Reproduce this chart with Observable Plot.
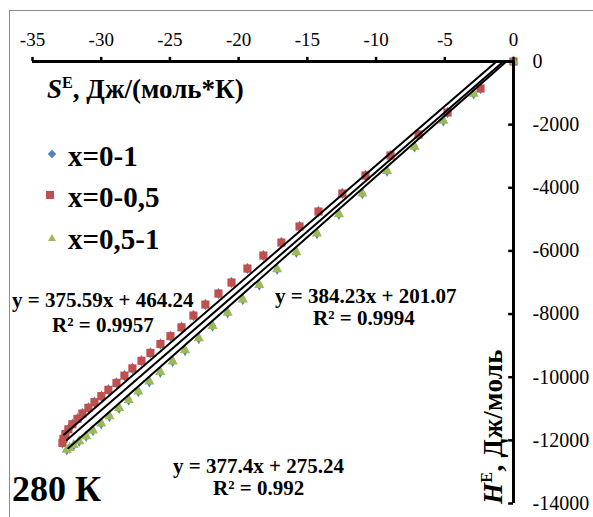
<!DOCTYPE html>
<html><head><meta charset="utf-8">
<script src="https://cdn.jsdelivr.net/npm/d3@7"></script>
<script src="https://cdn.jsdelivr.net/npm/@observablehq/plot@0.6"></script>
<style>
body{margin:0;background:#fff;}
#wrap{position:relative;width:593px;height:517px;font-family:"Liberation Serif","Times New Roman",serif;overflow:hidden;}
#wrap svg{position:absolute;left:0;top:0;}
.frame{position:absolute;left:9px;top:10px;width:600px;height:520px;border:1px solid #8c8c8c;box-sizing:border-box;}
.t{position:absolute;font-weight:bold;white-space:nowrap;color:#000;line-height:1;}
.eq{font-size:21px;}
.leg{font-size:29px;}
sup{font-size:0.6em;vertical-align:0.6em;line-height:0;}
.mk{position:absolute;}
</style></head>
<body><div id="wrap"><div class="frame"></div></div>
<script>
// ---- data ----
const xTicks = [-35, -30, -25, -20, -15, -10, -5, 0];
const yTicks = [0, -2000, -4000, -6000, -8000, -10000, -12000, -14000];

// x = 0-0,5 (red squares): [S^E, H^E]
const seriesHalf1 = [
  [0, 0], [-2.40, -855], [-4.80, -1616], [-6.91, -2313], [-8.95, -2978], [-10.77, -3611],
  [-12.45, -4182], [-14.19, -4752], [-15.57, -5227], [-16.89, -5734], [-18.20, -6146],
  [-19.36, -6558], [-20.52, -7001], [-21.47, -7350], [-22.42, -7698], [-23.29, -8047],
  [-24.16, -8420], [-24.96, -8700], [-25.69, -8950], [-26.42, -9230], [-27.07, -9480],
  [-27.73, -9720], [-28.31, -9950], [-28.89, -10180], [-29.48, -10400], [-29.99, -10600],
  [-30.49, -10790], [-30.93, -10970], [-31.37, -11150], [-31.73, -11320], [-32.10, -11490],
  [-32.39, -11650], [-32.61, -11800], [-32.75, -11950], [-32.82, -12080]
];
// x = 0,5-1 (green triangles)
const seriesHalf2 = [
  [0, 0], [-2.9, -1020], [-5.1, -1880], [-7.2, -2700], [-9.2, -3470], [-11.0, -4180],
  [-12.7, -4840], [-14.3, -5450], [-15.8, -6040], [-17.2, -6580], [-18.5, -7080],
  [-19.7, -7540], [-20.8, -7960], [-21.9, -8380], [-22.9, -8770], [-23.9, -9150],
  [-24.8, -9500], [-25.7, -9840], [-26.5, -10140], [-27.3, -10450], [-28.0, -10720],
  [-28.7, -10980], [-29.4, -11240], [-30.0, -11470], [-30.6, -11690], [-31.1, -11870],
  [-31.6, -12030], [-32.0, -12150], [-32.3, -12240], [-32.5, -12300]
];
// x = 0-1 (blue diamonds) : whole composition range
const seriesFull = seriesHalf1.concat(seriesHalf2);

// trend lines: slope, intercept, lower S end
const trendSlopes = [384.23, 375.59, 377.4];
const trendIntercepts = [201.07, 464.24, 275.24];
const trendXmin = [-32.4, -32.7, -32.5];

const colBlue = "#4f81bd", colRed = "#c0504d", colGreen = "#9bbb59";

const trendData = [];
trendSlopes.forEach((a, i) => {
  [trendXmin[i], 0].forEach(x => trendData.push({k: i, x, y: a * x + trendIntercepts[i]}));
});

const chart = Plot.plot({
  width: 593, height: 517,
  marginLeft: 32, marginRight: 80, marginTop: 61, marginBottom: 14,
  x: {domain: [-35, 0]},
  y: {domain: [-14000, 0]},
  style: {fontFamily: "'Liberation Serif','Times New Roman',serif", fontSize: "19px", background: "transparent", overflow: "visible", color: "#000"},
  marks: [
    Plot.axisX(xTicks, {anchor: "top", label: null, tickSize: 0, tickPadding: 16, tickFormat: d => String(d), fontSize: 19}),
    Plot.axisY(yTicks, {anchor: "right", label: null, tickSize: 0, tickPadding: 19, tickFormat: d => String(d), fontSize: 20, textAnchor: "start"}),
    Plot.dot(seriesFull, {x: d => d[0], y: d => d[1], symbol: "diamond", r: 3.5, fill: colBlue}),
    Plot.dot(seriesHalf1, {x: d => d[0], y: d => d[1], symbol: "square", r: 4.6, fill: colRed}),
    Plot.dot(seriesHalf2, {x: d => d[0], y: d => d[1], symbol: "triangle", r: 3.8, fill: colGreen}),
    Plot.line(trendData, {x: "x", y: "y", z: "k", stroke: "#000", strokeWidth: 2, clip: true}),
    Plot.ruleY([0], {stroke: "#000", strokeWidth: 3}),
    Plot.ruleX([0], {stroke: "#000", strokeWidth: 3}),
    Plot.ruleX(xTicks, {y1: 0, y2: 130, stroke: "#000", strokeWidth: 2.5}),
    Plot.ruleY(yTicks, {x1: -0.35, x2: 0, stroke: "#000", strokeWidth: 2.5})
  ]
});
const wrap = document.getElementById("wrap");
wrap.appendChild(chart);

function addText(html, cls, left, top, extra) {
  const d = document.createElement("div");
  d.className = "t " + cls;
  d.innerHTML = html;
  d.style.left = left + "px";
  d.style.top = top + "px";
  if (extra) Object.assign(d.style, extra);
  wrap.appendChild(d);
  return d;
}
// axis titles
addText("<i>S</i><sup>E</sup>, Дж/(моль*К)", "", 47, 76, {fontSize: "27px"});
addText("<i>H</i><sup>E</sup>, Дж/моль", "", 0, 0, {fontSize: "27px", letterSpacing: "0.3px", transformOrigin: "0 0", transform: "translate(480px, 504px) rotate(-90deg)"});

// legend
const legItems = [["x=0-1", colBlue, "diamond"], ["x=0-0,5", colRed, "square"], ["x=0,5-1", colGreen, "triangle"]];
const legTops = [142, 183, 225];
legItems.forEach((it, i) => {
  addText(it[0], "leg", 68, legTops[i]);
  const m = document.createElement("div");
  m.className = "mk";
  const cy = legTops[i] + 12;
  if (it[2] === "diamond") {
    Object.assign(m.style, {left: "49px", top: (cy - 3) + "px", width: "6px", height: "6px", background: it[1], transform: "rotate(45deg)"});
  } else if (it[2] === "square") {
    Object.assign(m.style, {left: "46px", top: (cy - 4) + "px", width: "8px", height: "8px", background: it[1]});
  } else {
    Object.assign(m.style, {left: "48px", top: (cy - 3) + "px", width: 0, height: 0, borderLeft: "4px solid transparent", borderRight: "4px solid transparent", borderBottom: "7px solid " + it[1]});
  }
  wrap.appendChild(m);
});

// trend line labels
addText("y = 375.59x + 464.24", "eq", 12, 290);
addText("R² = 0.9957", "eq", 52, 315);
addText("y = 384.23x + 201.07", "eq", 275, 286);
addText("R² = 0.9994", "eq", 313, 308);
addText("y = 377.4x + 275.24", "eq", 173, 456);
addText("R² = 0.992", "eq", 213, 478);
addText("280 К", "", 12, 471, {fontSize: "36px"});
</script>
</body></html>
